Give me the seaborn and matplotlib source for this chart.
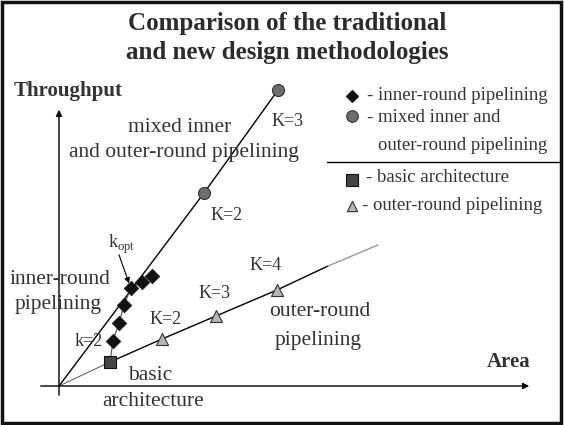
import matplotlib
matplotlib.use("Agg")
import matplotlib.pyplot as plt
import seaborn as sns
from matplotlib.patches import Rectangle

# Valori (area, throughput), origine = incrocio degli assi
basic_area = [5.1]
basic_thr = [2.4]
inner_area = [5.4, 6.0, 6.5, 7.2, 8.3, 9.3]
inner_thr = [4.5, 6.3, 8.1, 9.8, 10.4, 11.0]
mixed_area = [14.5, 21.9]
mixed_thr = [19.3, 29.6]
mixed_k = ["K=2", "K=3"]
outer_area = [10.3, 15.7, 21.8]
outer_thr = [4.7, 7.0, 9.6]
outer_k = ["K=2", "K=3", "K=4"]
# prolungamento della retta outer-round (pieno, poi sfumato)
outer_trend_area = [26.9, 31.9]
outer_trend_thr = [12.0, 14.1]
kopt_index = 3

TXT = "#333333"


def P(px, py):
    # posizione in pixel della figura -> coordinate dati
    return ((px - 59) / 10, (386 - py) / 10)


sns.set_theme(style="white")
plt.rcParams["font.family"] = ["Liberation Serif", "DejaVu Serif"]
plt.rcParams["mathtext.fontset"] = "custom"
plt.rcParams["mathtext.rm"] = "Liberation Serif"

fig = plt.figure(figsize=(5.64, 4.25), dpi=100)
ax = fig.add_axes([0, 0, 1, 1])

# Assi con frecce
ax.annotate("", xy=P(532, 386), xytext=P(38, 386),
            arrowprops=dict(arrowstyle="-|>", color="black", lw=1, mutation_scale=9))
ax.annotate("", xy=P(59, 107), xytext=P(59, 398),
            arrowprops=dict(arrowstyle="-|>", color="black", lw=1, mutation_scale=9))

# Linee
sns.lineplot(x=[0] + mixed_area, y=[0] + mixed_thr, sort=False, estimator=None,
             color="black", lw=1, ax=ax)
sns.lineplot(x=[0] + basic_area, y=[0] + basic_thr, sort=False, estimator=None,
             color="#555555", lw=0.7, ax=ax)
sns.lineplot(x=basic_area + inner_area, y=basic_thr + inner_thr, sort=False,
             estimator=None, color="#555555", lw=0.8, ax=ax)
sns.lineplot(x=basic_area + outer_area + outer_trend_area[:1],
             y=basic_thr + outer_thr + outer_trend_thr[:1], sort=False,
             estimator=None, color="black", lw=1, ax=ax)
sns.lineplot(x=outer_trend_area, y=outer_trend_thr, sort=False, estimator=None,
             color="#999999", lw=1, ax=ax)

# Punti
sns.scatterplot(x=inner_area, y=inner_thr, marker="D", s=55, color="#111111",
                edgecolor="#111111", linewidth=0.5, zorder=4, ax=ax)
sns.scatterplot(x=mixed_area, y=mixed_thr, marker="o", s=75, color="#6e6e6e",
                edgecolor="#333333", linewidth=0.8, zorder=4, ax=ax)
sns.scatterplot(x=basic_area, y=basic_thr, marker="s", s=80, color="#444444",
                edgecolor="#111111", linewidth=0.8, zorder=4, ax=ax)
sns.scatterplot(x=outer_area, y=outer_thr, marker="^", s=75, color="#b4b4b4",
                edgecolor="#333333", linewidth=0.8, zorder=4, ax=ax)

# Etichette K
for pos, lab in zip([(227, 216), (288, 121)], mixed_k):
    ax.text(*P(*pos), lab, fontsize=13, color=TXT, ha="center", va="center")
for pos, lab in zip([(166, 319), (215, 294), (266, 266)], outer_k):
    ax.text(*P(*pos), lab, fontsize=13, color=TXT, ha="center", va="center")
ax.text(*P(89, 341), "k=2", fontsize=13, color=TXT, ha="center", va="center")

# k_opt con freccia
kx, ky = inner_area[kopt_index], inner_thr[kopt_index]
ax.annotate("", xy=(kx - 0.1, ky + 0.2), xytext=P(118, 252),
            arrowprops=dict(arrowstyle="-|>", color="black", lw=0.8, mutation_scale=8))
ax.text(*P(108, 248), r"k$_{\mathrm{opt}}$", fontsize=13, color=TXT,
        ha="left", va="baseline")

# Testi descrittivi
ax.text(*P(180, 127), "mixed inner", fontsize=15.5, color=TXT, ha="center", va="center")
ax.text(*P(184, 152), "and outer-round pipelining", fontsize=15.5, color=TXT,
        ha="center", va="center")
ax.text(*P(60, 280), "inner-round", fontsize=15.5, color=TXT, ha="center", va="center")
ax.text(*P(58, 305), "pipelining", fontsize=15.5, color=TXT, ha="center", va="center")
ax.text(*P(320, 312), "outer-round", fontsize=15.5, color=TXT, ha="center", va="center")
ax.text(*P(318, 340), "pipelining", fontsize=15.5, color=TXT, ha="center", va="center")
ax.text(*P(150, 375), "basic", fontsize=15.5, color=TXT, ha="center", va="center")
ax.text(*P(153, 402), "architecture", fontsize=15.5, color=TXT, ha="center", va="center")
ax.text(*P(509, 362), "Area", fontsize=15, fontweight="bold", color=TXT,
        ha="center", va="center")
ax.text(*P(68, 91), "Throughput", fontsize=15, fontweight="bold", color=TXT,
        ha="center", va="center")

# Titolo
ax.text(*P(287, 30), "Comparison of the traditional", fontsize=18, fontweight="bold",
        color="#2b2b2b", ha="center", va="baseline")
ax.text(*P(287, 59), "and new design methodologies", fontsize=18, fontweight="bold",
        color="#2b2b2b", ha="center", va="baseline")

# Legenda disegnata a mano
LEG = 13.5
ax.scatter(*P(352, 96), marker="D", s=35, color="#111111", zorder=4)
ax.text(*P(367, 96), "- inner-round pipelining", fontsize=LEG, color=TXT, va="center")
ax.scatter(*P(352, 116), marker="o", s=70, color="#6e6e6e", edgecolor="#333333",
           linewidth=0.8, zorder=4)
ax.text(*P(367, 118), "- mixed inner and", fontsize=LEG, color=TXT, va="center")
ax.text(*P(378, 145), "outer-round pipelining", fontsize=LEG, color=TXT, va="center")
ax.plot(*zip(P(327, 162), P(561, 162)), color="black", lw=1)
ax.scatter(*P(352, 180), marker="s", s=70, color="#444444", edgecolor="#111111",
           linewidth=0.8, zorder=4)
ax.text(*P(366, 178), "- basic architecture", fontsize=LEG, color=TXT, va="center")
ax.scatter(*P(352, 206), marker="^", s=55, color="#b4b4b4", edgecolor="#333333",
           linewidth=0.8, zorder=4)
ax.text(*P(362, 206), "- outer-round pipelining", fontsize=LEG, color=TXT, va="center")

ax.set_xlim(-5.9, 50.5)
ax.set_ylim(-3.9, 38.6)
ax.axis("off")

# Cornice
fig.patches.append(Rectangle((0.004, 0.005), 0.99, 0.99, transform=fig.transFigure,
                             fill=False, edgecolor="#111111", lw=2.5))

plt.savefig("out.png", dpi=100)
plt.close()
